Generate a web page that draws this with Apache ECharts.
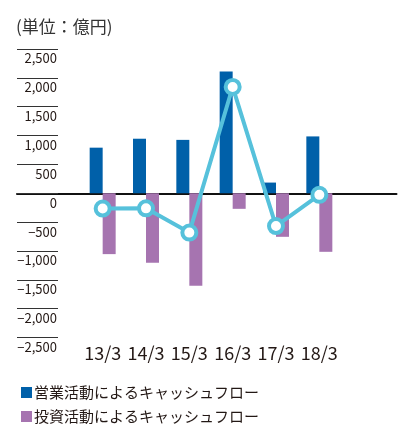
<!DOCTYPE html>
<html>
<head>
<meta charset="utf-8">
<script src="https://cdn.jsdelivr.net/npm/echarts@6/dist/echarts.min.js"></script>
<style>
  html, body { margin: 0; padding: 0; background: #fff; }
  #chart { width: 398px; height: 424px; }
</style>
</head>
<body>
<div id="chart"></div>
<script>
// Fiscal years (March year-end)
const categories = ['13/3', '14/3', '15/3', '16/3', '17/3', '18/3'];
// Operating cash flow (100 million yen)
const operatingCF = [790, 945, 925, 2110, 185, 985];
// Investing cash flow (100 million yen)
const investingCF = [-1055, -1205, -1605, -270, -755, -1015];
// Free cash flow line (100 million yen)
const freeCF = [-265, -262, -682, 1842, -569, -28];
// Value axis range
const yMin = -2500, yMax = 2500, yStep = 500;

const seriesNames = ['営業活動によるキャッシュフロー', '投資活動によるキャッシュフロー'];
const colors = { operating: '#0060a9', investing: '#a674b0', free: '#56c1db' };

const font = '"Noto Sans CJK JP", "Noto Sans", sans-serif';
const fmt = v => (v < 0 ? '\u2212' : '') + Math.abs(v).toLocaleString('en-US');

// One legend row per bar series
const legendRow = (name, top) => ({
  left: 16, top: top,
  itemWidth: 11, itemHeight: 11,
  icon: 'rect',
  data: [name],
  textStyle: { fontSize: 15, color: '#231815', fontFamily: font, padding: [0, 0, 0, -3] }
});

const chart = echarts.init(document.getElementById('chart'), null, { renderer: 'canvas' });

chart.setOption({
  animation: false,
  backgroundColor: '#fff',
  textStyle: { fontFamily: font },
  title: {
    text: '(単位：億円)',
    left: 11, top: 13,
    textStyle: { fontSize: 17, fontWeight: 'normal', color: '#333', fontFamily: font }
  },
  legend: [legendRow(seriesNames[0], 380), legendRow(seriesNames[1], 404)],
  grid: [
    { left: 81, right: 57, top: 49, bottom: 86.5 },
    { left: 17, right: 1.5, top: 49, bottom: 86.5 }
  ],
  xAxis: [
    {
      type: 'category', gridIndex: 0, data: categories,
      position: 'bottom',
      axisLine: { show: false },
      axisTick: { show: false },
      axisLabel: { interval: 0, hideOverlap: false, margin: 7, fontSize: 18, color: '#231815', fontFamily: font }
    },
    {
      type: 'value', gridIndex: 1, min: 0, max: 1,
      axisLine: { show: true, onZero: true, lineStyle: { color: '#111', width: 2 } },
      axisTick: { show: false }, axisLabel: { show: false }, splitLine: { show: false }
    }
  ],
  yAxis: [
    {
      type: 'value', gridIndex: 0,
      min: yMin, max: yMax, interval: yStep,
      offset: 23,
      axisLine: { show: false },
      axisTick: { show: true, inside: false, length: 41, lineStyle: { color: '#333', width: 1 } },
      splitLine: { show: false },
      axisLabel: {
        margin: 1, fontSize: 13, color: '#231815', fontFamily: font,
        align: 'right', verticalAlign: 'top', padding: [3, 0, 0, 0],
        formatter: fmt
      }
    },
    {
      type: 'value', gridIndex: 1,
      min: yMin, max: yMax, interval: yStep,
      show: false
    }
  ],
  series: [
    {
      name: seriesNames[0], type: 'bar',
      xAxisIndex: 0, yAxisIndex: 0,
      data: operatingCF, barWidth: 13, barGap: '0%',
      itemStyle: { color: colors.operating }
    },
    {
      name: seriesNames[1], type: 'bar',
      xAxisIndex: 0, yAxisIndex: 0,
      data: investingCF, barWidth: 13, barGap: '0%',
      itemStyle: { color: colors.investing }
    },
    {
      name: 'フリーキャッシュフロー', type: 'line',
      xAxisIndex: 0, yAxisIndex: 0,
      data: freeCF,
      symbol: 'circle', symbolSize: 14,
      lineStyle: { color: colors.free, width: 4 },
      itemStyle: { color: '#fff', borderColor: colors.free, borderWidth: 4 },
      z: 5
    }
  ]
});
</script>
</body>
</html>
